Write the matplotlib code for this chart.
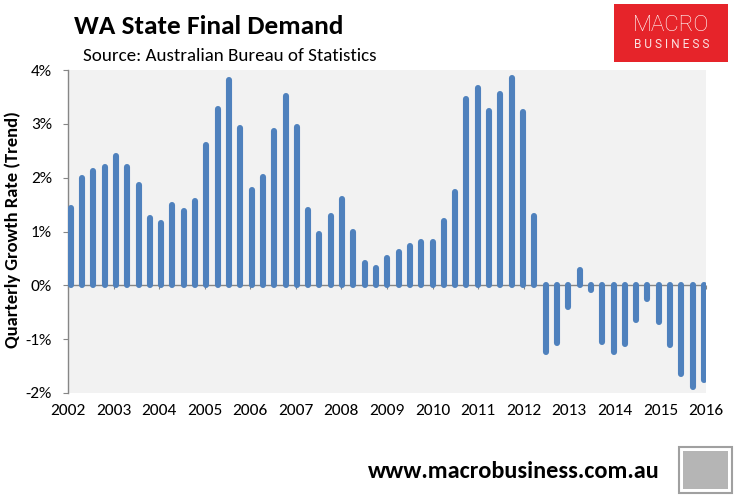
import numpy as np
import matplotlib
matplotlib.use("Agg")
import matplotlib.pyplot as plt
from matplotlib.patches import Rectangle

# ---- data ----
years = list(range(2002, 2017))
growth = [1.43, 1.99, 2.13, 2.20, 2.40, 2.20, 1.87, 1.26, 1.15, 1.50,
          1.38, 1.57, 2.60, 3.27, 3.81, 2.92, 1.78, 2.01, 2.86, 3.51,
          2.94, 1.40, 0.96, 1.29, 1.60, 0.99, 0.42, 0.33, 0.51, 0.62,
          0.73, 0.81, 0.81, 1.20, 1.74, 3.46, 3.67, 3.24, 3.56, 3.86,
          3.22, 1.28, -1.23, -1.08, -0.41, 0.28, -0.08, -1.06, -1.23, -1.09,
          -0.64, -0.26, -0.69, -1.11, -1.65, -1.88, -1.75]
yticks = [-2, -1, 0, 1, 2, 3, 4]

FONT = ['Carlito', 'DejaVu Sans']
plt.rcParams['font.family'] = FONT

W, H = 736, 500
fig = plt.figure(figsize=(W / 100, H / 100), dpi=100)
fig.patch.set_facecolor('white')

L, R, T, B = 68, 706, 70, 393
ax = fig.add_axes([L / W, 1 - B / H, (R - L) / W, (B - T) / H])
ax.set_facecolor('#F2F2F2')

x = np.arange(len(growth))
x0, x1 = -0.24, len(growth) - 1 + 0.18
ax.set_xlim(x0, x1)
ax.set_ylim(-2, 4)

ax.axhline(0, color='#868686', lw=1.0, zorder=1)
ax.vlines(x, 0, growth, colors='#4F81BD', lw=4.4, capstyle='round', zorder=3)

# x labels at bottom, tick marks on the zero line
yearpos = np.linspace(x0, x1, len(years))
ax.set_xticks(yearpos)
ax.set_xticklabels([str(y) for y in years], fontsize=12.5)
ax.tick_params(axis='x', length=0, pad=8)
sec = ax.secondary_xaxis(0, transform=ax.transData)
sec.set_xticks(yearpos)
sec.set_xticklabels([])
sec.tick_params(axis='x', length=3, color='#868686', direction='out')
sec.spines['bottom'].set_visible(False)

ax.set_yticks(yticks)
ax.set_yticklabels([f'{v}%' for v in yticks], fontsize=12.5)
ax.tick_params(axis='y', length=3.6, color='#868686', direction='out', pad=8)

for s in ['top', 'right', 'bottom']:
    ax.spines[s].set_visible(False)
ax.spines['left'].set_color('#868686')
ax.spines['left'].set_linewidth(1.0)

ax.set_ylabel('Quarterly Growth Rate (Trend)', fontsize=13.3, fontweight='bold')
ax.yaxis.set_label_coords(-(L - 21) / (R - L), 1 - (230 - T) / (B - T))

# titles
fig.text(74 / W, 1 - 26.5 / H, 'WA State Final Demand', fontsize=19.7, fontweight='bold',
         va='center', ha='left')
fig.text(83 / W, 1 - 56 / H, 'Source: Australian Bureau of Statistics', fontsize=13.7,
         va='center', ha='left')

# logo
fig.patches.append(Rectangle((614 / W, 1 - 62 / H), 114 / W, 58 / H,
                             transform=fig.transFigure, facecolor='#E6242A',
                             edgecolor='none'))
fig.text(671 / W, 1 - 25.5 / H, 'MACRO', fontsize=16, color='white', ha='center',
         va='center', family=['Roboto', 'DejaVu Sans'], fontweight='light')
fig.text(672 / W, 1 - 44.5 / H, 'B U S I N E S S', fontsize=8.6, color='#FBE3E3', ha='center',
         va='center', family=['Roboto', 'DejaVu Sans'])

# footer
fig.text(660 / W, 1 - 471 / H, 'www.macrobusiness.com.au', fontsize=17.5, fontweight='bold',
         ha='right', va='center')
fig.patches.append(Rectangle((679 / W, 1 - 493 / H), 53 / W, 46 / H,
                             transform=fig.transFigure, facecolor='#FFFFFF',
                             edgecolor='#A0A0A0', lw=1.5))
fig.patches.append(Rectangle((683 / W, 1 - 489 / H), 45 / W, 38 / H,
                             transform=fig.transFigure, facecolor='#B5B5B5',
                             edgecolor='none'))

fig.savefig('out.png', dpi=100, facecolor='white')
